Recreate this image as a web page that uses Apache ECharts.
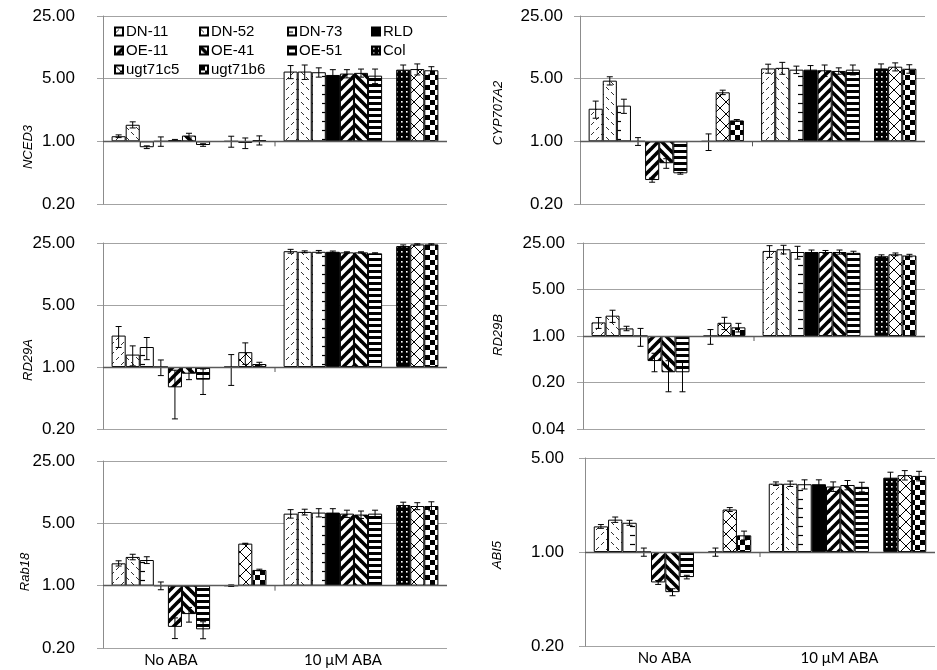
<!DOCTYPE html>
<html>
<head>
<meta charset="utf-8">
<script src="https://cdn.jsdelivr.net/npm/echarts@6/dist/echarts.min.js"></script>
<style>
  html, body { margin: 0; padding: 0; background: #fff; }
  #chart { width: 937px; height: 670px; }
</style>
</head>
<body>
<div id="chart"></div>
<script>
// Relative transcript levels (fold change, log-5 axis) for each genotype,
// without ABA and after 10 µM ABA. Order follows `lines`.
const categories = ['No ABA', '10 μM ABA'];
const lines = ['DN-11', 'DN-52', 'DN-73', 'RLD', 'OE-11', 'OE-41', 'OE-51', 'Col', 'ugt71c5', 'ugt71b6'];

const nced3NoAba     = [1.14, 1.53, 0.86, 1.00, 1.03, 1.16, 0.91, 1.00, 0.96, 1.03];
const nced3NoAbaErr  = [0.04, 0.12, 0.03, 0.12, 0.02, 0.07, 0.03, 0.14, 0.13, 0.12];
const nced3Aba       = [6.0, 6.0, 5.9, 5.5, 5.7, 5.8, 5.4, 6.3, 6.4, 6.2];
const nced3AbaErr    = [1.0, 1.1, 0.7, 0.8, 0.6, 0.6, 1.0, 0.8, 0.9, 0.6];

const cyp707a2NoAba    = [2.31, 4.75, 2.50, 1.00, 0.37, 0.57, 0.44, 1.00, 3.52, 1.71];
const cyp707a2NoAbaErr = [0.50, 0.50, 0.45, 0.10, 0.02, 0.07, 0.01, 0.21, 0.20, 0.04];
const cyp707a2Aba      = [6.5, 6.6, 6.3, 6.3, 6.2, 6.1, 6.3, 6.5, 6.8, 6.45];
const cyp707a2AbaErr   = [0.75, 1.0, 0.6, 0.7, 0.9, 0.5, 0.8, 0.8, 0.7, 0.7];

const rd29aNoAba    = [2.26, 1.38, 1.68, 1.00, 0.59, 0.84, 0.72, 1.00, 1.47, 1.08];
const rd29aNoAbaErr = [0.60, 0.35, 0.47, 0.20, 0.33, 0.12, 0.23, 0.38, 0.40, 0.05];
const rd29aAba      = [20.2, 19.9, 19.9, 19.9, 19.6, 19.6, 19.1, 23.1, 24.1, 24.1];
const rd29aAbaErr   = [1.0, 0.5, 0.7, 0.4, 0.3, 0.3, 0.3, 0.7, 0.4, 0.4];

const rd29bNoAba    = [1.60, 2.02, 1.30, 1.00, 0.42, 0.285, 0.285, 1.00, 1.58, 1.35];
const rd29bNoAbaErr = [0.30, 0.42, 0.10, 0.30, 0.13, 0.14, 0.14, 0.25, 0.33, 0.20];
const rd29bAba      = [19.0, 20.1, 18.3, 18.3, 18.3, 18.3, 17.8, 15.8, 16.9, 16.2];
const rd29bAbaErr   = [3.8, 3.0, 4.0, 1.3, 1.0, 1.3, 1.0, 0.8, 0.8, 0.7];

const rab18NoAba    = [1.78, 2.10, 1.94, 1.00, 0.345, 0.48, 0.324, 1.00, 2.96, 1.50];
const rab18NoAbaErr = [0.12, 0.15, 0.17, 0.10, 0.09, 0.09, 0.07, 0.02, 0.03, 0.03];
const rab18Aba      = [6.42, 6.70, 6.60, 6.60, 6.42, 6.27, 6.42, 8.03, 7.82, 7.82];
const rab18AbaErr   = [0.7, 0.5, 0.7, 0.7, 0.6, 0.6, 0.6, 0.6, 0.7, 0.9];

const abi5NoAba    = [1.55, 1.74, 1.65, 1.00, 0.594, 0.503, 0.651, 1.00, 2.07, 1.33];
const abi5NoAbaErr = [0.05, 0.08, 0.07, 0.07, 0.02, 0.03, 0.02, 0.07, 0.07, 0.10];
const abi5Aba      = [3.22, 3.22, 3.19, 3.19, 3.07, 3.15, 3.05, 3.57, 3.73, 3.68];
const abi5AbaErr   = [0.10, 0.15, 0.25, 0.25, 0.25, 0.25, 0.25, 0.35, 0.30, 0.30];

// Tick values of the log-5 value axes
const ticksWide  = [0.2, 1, 5, 25];
const ticksRd29b = [0.04, 0.2, 1, 5, 25];
const ticksAbi5  = [0.2, 1, 5];

const genes = [
  { name: 'NCED3',    ticks: ticksWide,  noAba: nced3NoAba,    noAbaErr: nced3NoAbaErr,    aba: nced3Aba,    abaErr: nced3AbaErr },
  { name: 'CYP707A2', ticks: ticksWide,  noAba: cyp707a2NoAba, noAbaErr: cyp707a2NoAbaErr, aba: cyp707a2Aba, abaErr: cyp707a2AbaErr },
  { name: 'RD29A',    ticks: ticksWide,  noAba: rd29aNoAba,    noAbaErr: rd29aNoAbaErr,    aba: rd29aAba,    abaErr: rd29aAbaErr },
  { name: 'RD29B',    ticks: ticksRd29b, noAba: rd29bNoAba,    noAbaErr: rd29bNoAbaErr,    aba: rd29bAba,    abaErr: rd29bAbaErr },
  { name: 'Rab18',    ticks: ticksWide,  noAba: rab18NoAba,    noAbaErr: rab18NoAbaErr,    aba: rab18Aba,    abaErr: rab18AbaErr },
  { name: 'ABI5',     ticks: ticksAbi5,  noAba: abi5NoAba,     noAbaErr: abi5NoAbaErr,     aba: abi5Aba,     abaErr: abi5AbaErr }
];

// Panel placement (pixels) and where each rotated gene label sits
const panels = [
  { left: 103, top: 16,  width: 344, height: 188, nameX: 28,  nameY: 147, labelMargin: 28, catShift: 0 },
  { left: 580, top: 16,  width: 345, height: 188, nameX: 498, nameY: 113, labelMargin: 17, catShift: 0 },
  { left: 103, top: 243, width: 344, height: 186, nameX: 28,  nameY: 360, labelMargin: 28, catShift: 0 },
  { left: 583, top: 243, width: 342, height: 186, nameX: 498, nameY: 335, labelMargin: 18, catShift: 0 },
  { left: 103, top: 461, width: 344, height: 187, nameX: 25,  nameY: 572, labelMargin: 28, catShift: 36 },
  { left: 585, top: 458, width: 350, height: 188, nameX: 497, nameY: 555, labelMargin: 21, catShift: 16 }
];

const SLOT_COUNT = 11;          // ten genotypes plus one empty slot before Col
const CATEGORY_GAP = 0.10;      // share of each category band left empty
const slotOf = i => (i < 7 ? i : i + 1);

// ---- fill patterns -------------------------------------------------------
function pattern(w, h, paint) {
  const c = document.createElement('canvas');
  c.width = w; c.height = h;
  const g = c.getContext('2d');
  g.fillStyle = '#fff';
  g.fillRect(0, 0, w, h);
  g.strokeStyle = '#000';
  g.fillStyle = '#000';
  paint(g);
  return { image: c, repeat: 'repeat' };
}
function seg(g, x1, y1, x2, y2, lw, col) {
  g.lineWidth = lw;
  g.strokeStyle = col || '#000';
  g.beginPath(); g.moveTo(x1, y1); g.lineTo(x2, y2); g.stroke();
}
const fills = [
  // DN-11: short rising dashes
  pattern(10, 10, g => { seg(g, 1, 5, 4, 2, 1, '#333'); seg(g, 6, 10, 9, 7, 1, '#333'); }),
  // DN-52: short falling dashes
  pattern(10, 10, g => { seg(g, 1, 2, 4, 5, 1, '#333'); seg(g, 6, 7, 9, 10, 1, '#333'); }),
  // DN-73: short horizontal dashes
  pattern(14, 9, g => { seg(g, 0, 4.5, 5, 4.5, 1.2); }),
  // RLD: solid
  '#000',
  // OE-11: wide rising stripes
  pattern(10, 10, g => { seg(g, -2, 12, 12, -2, 3.6); seg(g, -2, 2, 2, -2, 3.6); seg(g, 8, 12, 12, 8, 3.6); }),
  // OE-41: wide falling stripes
  pattern(10, 10, g => { seg(g, -2, -2, 12, 12, 3.6); seg(g, 8, -2, 12, 2, 3.6); seg(g, -2, 8, 2, 12, 3.6); }),
  // OE-51: wide horizontal stripes
  pattern(4, 6, g => { g.fillRect(0, 0, 4, 3); }),
  // Col: white dots on black
  pattern(5, 5, g => { g.fillStyle = '#000'; g.fillRect(0, 0, 5, 5); g.fillStyle = '#fff'; g.fillRect(1, 1, 1.6, 1.6); }),
  // ugt71c5: diagonal cross-hatch
  pattern(12, 12, g => { seg(g, 0, 0, 12, 12, 1); seg(g, 12, 0, 0, 12, 1); }),
  // ugt71b6: checkerboard
  pattern(10, 10, g => { g.fillRect(0, 0, 5, 5); g.fillRect(5, 5, 5, 5); })
];

// ---- error bars ----------------------------------------------------------
function renderErrorBar(params, api) {
  const cat = api.value(0);
  const band = api.coord([1, 1])[0] - api.coord([0, 1])[0];
  const slotW = band * (1 - CATEGORY_GAP) / SLOT_COUNT;
  const cx = api.coord([cat, 1])[0] + (api.value(3) - (SLOT_COUNT - 1) / 2) * slotW;
  const yLo = api.coord([cat, api.value(1)])[1];
  const yHi = api.coord([cat, api.value(2)])[1];
  const cap = 3;
  const st = { stroke: '#000', lineWidth: 1 };
  return {
    type: 'group',
    children: [
      { type: 'line', shape: { x1: cx, y1: yLo, x2: cx, y2: yHi }, style: st },
      { type: 'line', shape: { x1: cx - cap, y1: yHi, x2: cx + cap, y2: yHi }, style: st },
      { type: 'line', shape: { x1: cx - cap, y1: yLo, x2: cx + cap, y2: yLo }, style: st }
    ]
  };
}

// tick on the 1.0 baseline between the two treatment groups
function renderBoundaryTick(params, api) {
  const x0 = api.coord([0, 1]);
  const x1 = api.coord([1, 1]);
  const x = (x0[0] + x1[0]) / 2;
  return {
    type: 'line',
    shape: { x1: x, y1: x0[1], x2: x, y2: x0[1] + 5 },
    style: { stroke: '#5a5a5a', lineWidth: 1 }
  };
}

// ---- assemble option -----------------------------------------------------
const grid = [], xAxis = [], yAxis = [], series = [], graphic = [];
const gridGray = '#a3a3a3';

genes.forEach((gene, p) => {
  const box = panels[p];
  grid.push({ left: box.left, top: box.top, width: box.width, height: box.height, containLabel: false, outerBoundsMode: 'none' });

  xAxis.push({
    type: 'category', gridIndex: p, data: categories,
    axisLine: { show: false }, axisTick: { show: false },
    axisLabel: {
      show: box.catShift > 0, color: '#000', fontSize: 15, fontFamily: 'Lato', margin: 5,
      padding: [0, box.catShift, 0, 0]
    },
    splitLine: { show: false }
  });

  yAxis.push({
    type: 'log', logBase: 5, gridIndex: p,
    min: gene.ticks[0], max: gene.ticks[gene.ticks.length - 1],
    axisLine: { show: true, lineStyle: { color: '#8c8c8c', width: 1 } },
    axisTick: { show: true, length: 6, lineStyle: { color: gridGray } },
    splitLine: { show: true, lineStyle: { color: gridGray, width: 1 } },
    minorTick: { show: false },
    axisLabel: {
      color: '#000', fontSize: 17, fontFamily: 'Liberation Sans', margin: box.labelMargin,
      formatter: v => Number(v).toFixed(2)
    }
  });

  for (let s = 0; s < SLOT_COUNT; s++) {
    const common = {
      type: 'bar', xAxisIndex: p, yAxisIndex: p,
      barGap: '0%', barCategoryGap: (CATEGORY_GAP * 100) + '%',
      emphasis: { disabled: true }, animation: false
    };
    if (s === 7) {
      // empty slot between OE-51 and Col; carries the baseline at 1.0
      series.push(Object.assign({}, common, {
        name: '', data: [null, null],
        markLine: {
          silent: true, symbol: 'none', animation: false,
          label: { show: false },
          lineStyle: { color: '#5a5a5a', width: 1.4, type: 'solid' },
          data: [{ yAxis: 1 }]
        }
      }));
      continue;
    }
    const i = s < 7 ? s : s - 1;
    series.push(Object.assign({}, common, {
      name: lines[i],
      data: [gene.noAba[i], gene.aba[i]],
      itemStyle: { color: fills[i], borderColor: '#000', borderWidth: 1 }
    }));
  }

  const errData = [];
  lines.forEach((_, i) => {
    errData.push([0, gene.noAba[i] - gene.noAbaErr[i], gene.noAba[i] + gene.noAbaErr[i], slotOf(i)]);
    errData.push([1, gene.aba[i] - gene.abaErr[i], gene.aba[i] + gene.abaErr[i], slotOf(i)]);
  });
  series.push({
    type: 'custom', xAxisIndex: p, yAxisIndex: p, z: 4, silent: true, animation: false,
    data: errData, encode: { x: 0, y: [1, 2] }, renderItem: renderErrorBar
  });
  series.push({
    type: 'custom', xAxisIndex: p, yAxisIndex: p, z: 3, silent: true, animation: false,
    data: [[0, 1]], encode: { x: 0, y: 1 }, renderItem: renderBoundaryTick
  });

  graphic.push({
    type: 'text', x: box.nameX, y: box.nameY, rotation: Math.PI / 2,
    style: {
      text: gene.name, fill: '#000', font: 'italic 13px "Liberation Sans"',
      textAlign: 'center', textVerticalAlign: 'middle'
    }
  });
});

// legend arranged in four columns of the first panel
const legendCols = [
  { left: 114, items: ['DN-11', 'OE-11', 'ugt71c5'] },
  { left: 199, items: ['DN-52', 'OE-41', 'ugt71b6'] },
  { left: 287, items: ['DN-73', 'OE-51'] },
  { left: 371, items: ['RLD', 'Col'] }
];
const legend = legendCols.map(col => ({
  data: col.items, left: col.left, top: 23, orient: 'vertical',
  padding: 0, itemWidth: 8, itemHeight: 8, itemGap: 2, icon: 'rect',
  selectedMode: false,
  textStyle: { color: '#000', fontSize: 15, fontFamily: 'Liberation Sans', lineHeight: 17, padding: [0, 0, 0, -2] }
}));

const chart = echarts.init(document.getElementById('chart'), null, { renderer: 'canvas' });
chart.setOption({
  animation: false,
  backgroundColor: '#fff',
  grid, xAxis, yAxis, series, legend, graphic
});
</script>
</body>
</html>
